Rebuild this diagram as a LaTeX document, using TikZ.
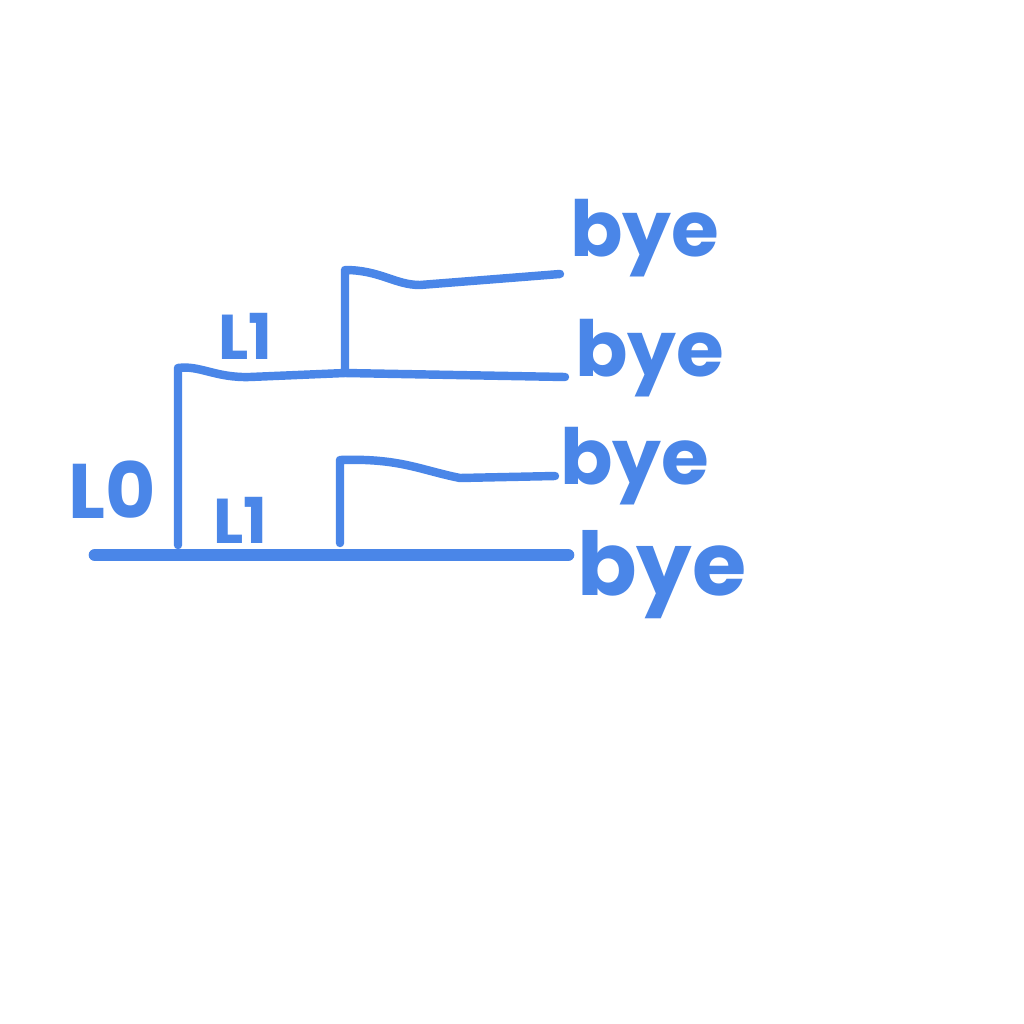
\documentclass[tikz,border=0pt]{standalone}
\usepackage{fontspec}
\setsansfont{Poppins}
\definecolor{pen}{HTML}{4A86E8}
\tikzset{
  stroke/.style={draw=pen, line width=2.4pt, line cap=round, line join=round},
  base/.style={draw=pen, line width=3.6pt, line cap=round},
  word/.style={text=pen, font=\sffamily\bfseries\fontsize{22}{22}\selectfont, inner sep=0pt},
}

\begin{document}
\begin{tikzpicture}[x=0.01cm, y=-0.01cm]
\useasboundingbox[fill=white] (0,0) rectangle (1024,1024);

% leaves
\node[word] (bye1) at (645,238) {bye};
\node[word] (bye2) at (650,358) {bye};
\node[word] (bye3) at (635,466) {bye};
\node[word, font=\sffamily\bfseries\fontsize{25}{25}\selectfont] (bye4) at (662,575) {bye};

% levels
\node[word] (lzero) at (112,490) {L0};
\node[word, font=\sffamily\bfseries\fontsize{18}{18}\selectfont] (lone) at (245,336) {L1};
\node[word, font=\sffamily\bfseries\fontsize{18}{18}\selectfont] (ltwo) at (240,520) {L1};

% joints
\coordinate (root) at (95,555);
\coordinate (rootend) at (568,555);
\coordinate (a0) at (178,545);
\coordinate (a1) at (178,368);
\coordinate (b0) at (345,373);
\coordinate (b1) at (345,270);
\coordinate (c0) at (340,543);
\coordinate (c1) at (340,460);
\coordinate (e1) at (560,274);
\coordinate (e2) at (565,377);
\coordinate (e3) at (555,476);

\draw[base] (root) -- (rootend);

\draw[stroke] (a0) -- (a1) .. controls (200,365) and (215,378) .. (250,377)
  -- (b0) -- (e2);
\draw[stroke] (b0) -- (b1) .. controls (380,270) and (395,285) .. (420,285) -- (e1);
\draw[stroke] (c0) -- (c1) .. controls (400,458) and (420,470) .. (460,478) -- (e3);

\end{tikzpicture}
\end{document}
